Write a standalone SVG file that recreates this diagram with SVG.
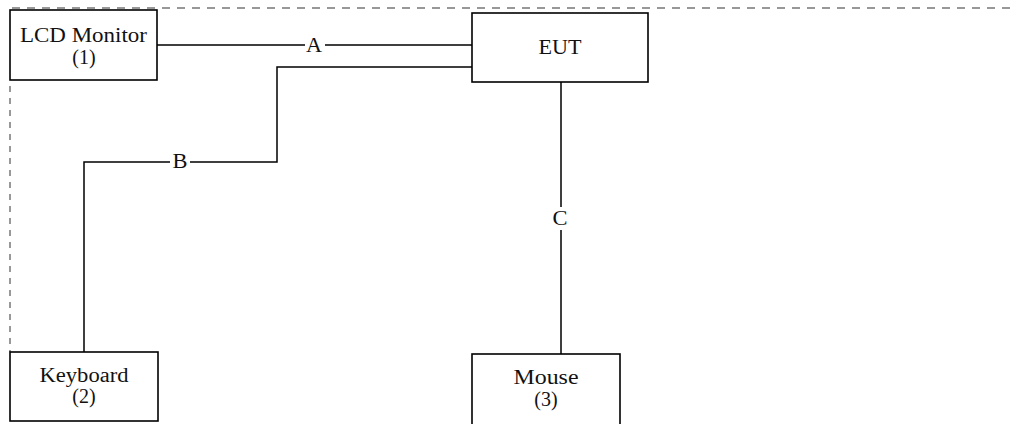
<svg xmlns="http://www.w3.org/2000/svg" width="1013" height="424" viewBox="0 0 1013 424">
<style>
.box{fill:#fff;stroke:#000;stroke-width:1.6}
.ln{fill:none;stroke:#000;stroke-width:1.5}
text{font-family:'Liberation Serif','Times New Roman',Times,serif;font-size:20px;fill:#111;text-anchor:middle}
</style>
<rect width="1013" height="424" fill="#fff"/>
<g id="boundary">
<line x1="12" y1="8" x2="1010" y2="8" stroke="#777" stroke-width="1.3" stroke-dasharray="8,7"/>
<line x1="10" y1="86" x2="10" y2="352" stroke="#333" stroke-width="1" stroke-dasharray="6,6"/>
</g>
<g id="connectors">
<path class="ln" d="M157 45H305M325 45H472"/>
<path class="ln" d="M472 67H277V162H190M170 162H84V352"/>
<path class="ln" d="M561 82V207M561 230V354"/>
<text x="314" y="52" textLength="16" lengthAdjust="spacingAndGlyphs">A</text>
<text x="180" y="168" textLength="15" lengthAdjust="spacingAndGlyphs">B</text>
<text x="560" y="225" textLength="15" lengthAdjust="spacingAndGlyphs">C</text>
</g>
<g id="lcd">
<rect class="box" x="10" y="10" width="147" height="70"/>
<text x="83.5" y="42" textLength="127" lengthAdjust="spacingAndGlyphs">LCD Monitor</text>
<text x="84" y="64">(1)</text>
</g>
<g id="eut">
<rect class="box" x="472" y="13" width="176" height="69"/>
<text x="560" y="54" textLength="43" lengthAdjust="spacingAndGlyphs">EUT</text>
</g>
<g id="keyboard">
<rect class="box" x="10" y="352" width="148" height="69"/>
<text x="84" y="382" textLength="89" lengthAdjust="spacingAndGlyphs">Keyboard</text>
<text x="84" y="403">(2)</text>
</g>
<g id="mouse">
<rect class="box" x="472" y="354" width="148" height="72"/>
<text x="546" y="384" textLength="65" lengthAdjust="spacingAndGlyphs">Mouse</text>
<text x="546" y="406">(3)</text>
</g>
</svg>
